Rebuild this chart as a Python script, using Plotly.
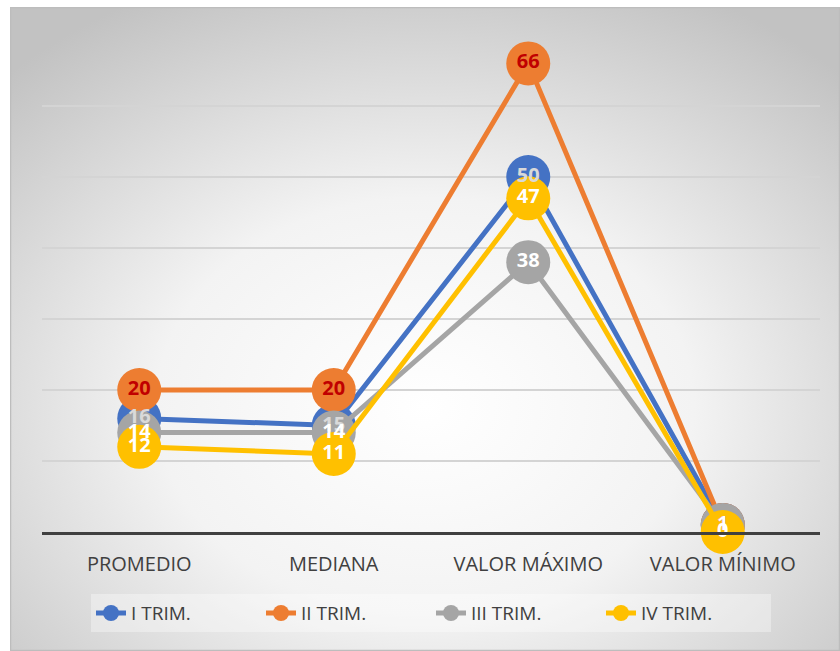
import base64
import plotly.graph_objects as go

categories = ["PROMEDIO", "MEDIANA", "VALOR MÁXIMO", "VALOR MÍNIMO"]
series_names = ["I TRIM.", "II TRIM.", "III TRIM.", "IV TRIM."]
s1 = [16, 15, 50, 1]
s2 = [20, 20, 66, 1]
s3 = [14, 14, 38, 1]
s4 = [12, 11, 47, 0]
series_values = [s1, s2, s3, s4]
colors = ["#4472C4", "#ED7D31", "#A5A5A5", "#FFC000"]
label_colors = ["#D9D9D9", "#C00000", "#FFFFFF", "#FFFFFF"]

W, H = 840, 651
L, R, T, B = 42, 20, 35, 119
pw, ph = W - L - R, H - T - B

svg = (
    '<svg xmlns="http://www.w3.org/2000/svg" width="830" height="644" viewBox="0 0 830 644" preserveAspectRatio="none">'
    '<defs><radialGradient id="g" cx="50%" cy="62%" r="72%">'
    '<stop offset="0" stop-color="#ffffff"/><stop offset="0.45" stop-color="#f3f3f3"/>'
    '<stop offset="1" stop-color="#c2c2c2"/></radialGradient></defs>'
    '<rect x="0" y="0" width="830" height="644" fill="url(#g)"/>'
    '<rect x="0.5" y="0.5" width="829" height="643" fill="none" stroke="#bdbdbd" stroke-width="1.5"/>'
    '</svg>'
)
src = "data:image/svg+xml;base64," + base64.b64encode(svg.encode()).decode()

fig = go.Figure()
for name, vals, c in zip(series_names, series_values, colors):
    fig.add_trace(go.Scatter(
        x=categories, y=vals, name=name, mode="lines+markers",
        line=dict(color=c, width=5),
        marker=dict(size=44, color=c),
        cliponaxis=False, hoverinfo="skip",
    ))
for vals, lc in zip(series_values, label_colors):
    fig.add_trace(go.Scatter(
        x=categories, y=vals, mode="text", text=[str(v) for v in vals],
        textposition="middle center",
        textfont=dict(family="Open Sans", size=20, color=lc, weight="bold"),
        showlegend=False, cliponaxis=False, hoverinfo="skip",
    ))

fig.add_layout_image(dict(
    source=src, xref="paper", yref="paper",
    x=(10 - L) / pw, y=(H - B - 7) / ph,
    sizex=(W - 10) / pw, sizey=(H - 7) / ph,
    xanchor="left", yanchor="top", sizing="stretch", layer="below",
))

fig.update_layout(
    width=W, height=H,
    margin=dict(l=L, r=R, t=T, b=B, autoexpand=False),
    paper_bgcolor="white", plot_bgcolor="rgba(0,0,0,0)",
    font=dict(family="Open Sans", color="#404040"),
    showlegend=True,
    legend=dict(
        orientation="h", x=0.5, xanchor="center", y=-0.125, yanchor="top",
        bgcolor="rgba(255,255,255,0.35)", font=dict(size=19, color="#404040"),
        entrywidth=125,
    ),
    xaxis=dict(
        type="category", range=[-0.5, 3.5], showgrid=False,
        showline=True, linecolor="#404040", linewidth=3,
        tickfont=dict(size=20, color="#404040"), ticks="", ticklabelstandoff=12,
        fixedrange=True,
    ),
    yaxis=dict(
        range=[0, 70], dtick=10, showticklabels=False, showgrid=True,
        gridcolor="#D4D4D4", gridwidth=1.5, zeroline=False, showline=False,
        fixedrange=True,
    ),
)

fig.write_html("out.html")
